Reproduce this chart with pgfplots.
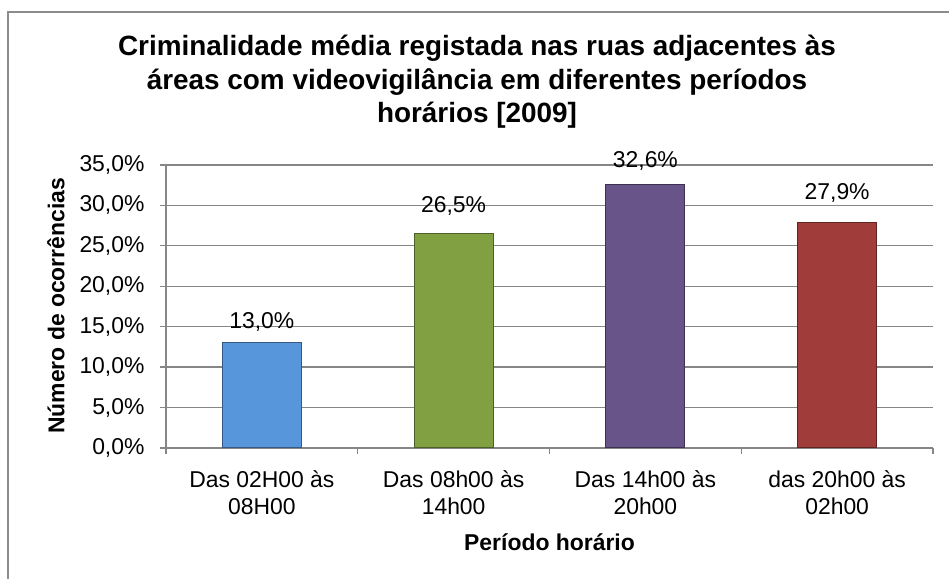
\documentclass[border=0pt]{standalone}
\usepackage{fontspec}
\setmainfont{Liberation Sans}
\usepackage{pgfplots}
\pgfplotsset{compat=1.18}
\definecolor{gridc}{RGB}{134,134,134}
\definecolor{framec}{RGB}{140,140,140}
\definecolor{bblue}{RGB}{88,150,220}
\definecolor{bgreen}{RGB}{128,160,66}
\definecolor{bpurple}{RGB}{104,84,136}
\definecolor{bred}{RGB}{160,60,58}
\begin{document}
\begin{tikzpicture}[x=1bp,y=1bp]
\useasboundingbox (0,0) rectangle (949,579);
\draw[framec, line width=2bp] (8,0) -- (8,567) -- (949,567);
\node[font=\bfseries\fontsize{28}{33.5}\selectfont, align=center] at (477,497)
  {Criminalidade média registada nas ruas adjacentes às\\áreas com videovigilância em diferentes períodos\\horários [2009]};
\begin{axis}[
  at={(166bp,131bp)}, anchor=south west,
  width=767bp, height=283bp, scale only axis,
  xmin=-0.5, xmax=3.5, ymin=0, ymax=35,
  axis x line*=bottom, axis y line*=left,
  axis line style={draw=gridc, line width=1.3bp, -},
  tick align=outside,
  major tick length=6bp,
  tick style={draw=gridc, line width=1.3bp},
  ytick={0,5,10,15,20,25,30,35},
  yticklabels={{0,0\%},{5,0\%},{10,0\%},{15,0\%},{20,0\%},{25,0\%},{30,0\%},{35,0\%}},
  ymajorgrids,
  grid style={draw=gridc, line width=1.3bp},
  xtick={-0.5,0.5,1.5,2.5,3.5},
  xticklabels={},
  extra x ticks={0,1,2,3},
  extra x tick labels={{Das 02H00 às\\08H00},{Das 08h00 às\\14h00},{Das 14h00 às\\20h00},{das 20h00 às\\02h00}},
  extra x tick style={major tick length=0pt, grid=none},
  xticklabel style={align=center, font=\fontsize{23}{27}\selectfont, yshift=-19bp},
  yticklabel style={font=\fontsize{23}{27}\selectfont, xshift=-12bp},
  xlabel={Período horário},
  ylabel={Número de ocorrências},
  every axis y label/.style={at={(axis description cs:-0.1434,0.502)}, rotate=90, anchor=center, font=\bfseries\fontsize{23}{27}\selectfont},
  every axis x label/.style={at={(axis description cs:0.5,0)}, yshift=-94bp, anchor=center, font=\bfseries\fontsize{23}{27}\selectfont},
  ybar, bar width=79bp, bar shift=0pt,
  nodes near coords, point meta=explicit symbolic,
  every node near coord/.append style={font=\fontsize{23}{27}\selectfont, anchor=south, text=black},
]
\addplot[fill=bblue, draw=bblue!60!black, line width=1bp, every node near coord/.append style={yshift=8bp}] coordinates {(0,13.0)[13,0\%]};
\addplot[fill=bgreen, draw=bgreen!60!black, line width=1bp, every node near coord/.append style={yshift=14bp}] coordinates {(1,26.5)[26,5\%]};
\addplot[fill=bpurple, draw=bpurple!60!black, line width=1bp, every node near coord/.append style={yshift=10bp}] coordinates {(2,32.6)[32,6\%]};
\addplot[fill=bred, draw=bred!60!black, line width=1bp, every node near coord/.append style={yshift=16.5bp}] coordinates {(3,27.9)[27,9\%]};
\end{axis}
\end{tikzpicture}
\end{document}
